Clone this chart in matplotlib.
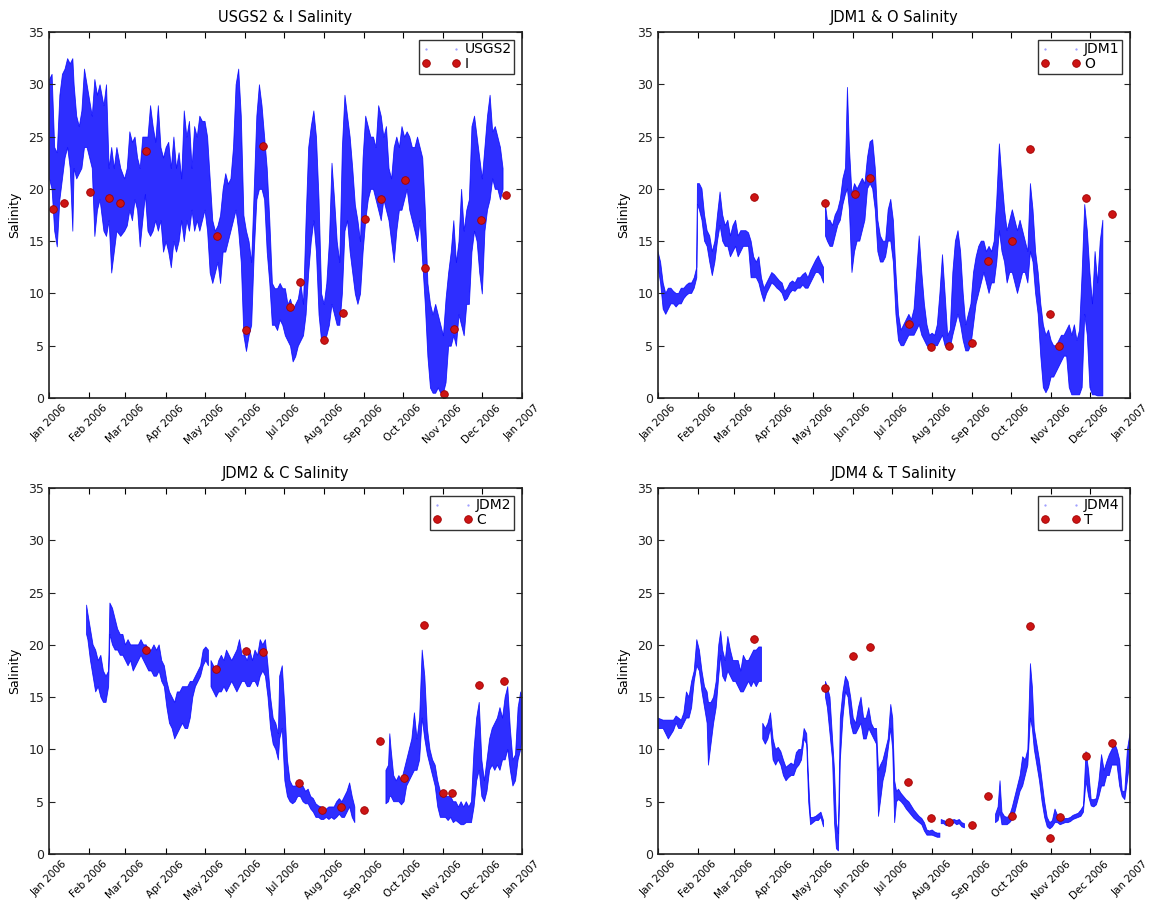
import numpy as np
import matplotlib
matplotlib.use("Agg")
import matplotlib.pyplot as plt
import matplotlib.dates as mdates
from matplotlib.lines import Line2D

nan = np.nan

# ---------------- USGS2 (day-of-year, low / high envelope of the dense record)
usgs2_day = [0, 2, 4, 6, 8, 10, 12, 14, 16, 18, 19, 21, 23, 25, 27, 29, 31, 33, 35, 37, 39, 42, 44, 46, 48, 50,
             52, 55, 58, 60, 62, 64, 66, 68, 70, 72, 74, 76, 78, 80, 82, 84, 86, 88, 90, 92, 94, 96, 98, 100,
             102, 104, 106, 108, 110, 112, 114, 116, 118, 120, 122, 124, 126, 128, 130, 132, 134, 136, 138, 140,
             142, 144, 146, 148, 150, 152, 154, 156, 158, 160, 162, 164, 166, 168, 170, 172, 174, 176, 178, 180,
             182, 184, 186, 188, 190, 192, 194, 196, 198, 200, 202, 204, 206, 208, 210, 212, 214, 216, 218, 220,
             222, 224, 226, 228, 230, 232, 234, 236, 238, 240, 242, 244, 246, 248, 250, 252, 254, 256, 258, 260,
             262, 264, 266, 268, 270, 272, 274, 276, 278, 280, 282, 284, 286, 288, 290, 292, 294, 296, 298, 300,
             302, 304, 306, 308, 310, 312, 314, 316, 318, 320, 322, 324, 326, 328, 330, 332, 334, 336, 338, 340,
             342, 344, 346, 348, 350]
usgs2_lo = [21, 20, 16, 14.5, 19, 21, 23, 24, 22, 16, 22, 21, 21.5, 22, 24, 24, 23, 22, 15.5, 18, 19, 16, 15.5, 17, 12, 14,
            16, 15.5, 16, 16.5, 18, 17, 19, 18, 14.5, 17, 19.5, 16, 15.5, 16, 17, 16, 17, 14, 15, 14, 12.5, 15, 14, 15,
            17, 15, 17, 16, 18, 16, 17, 16, 17, 18, 16, 12, 11, 12, 13, 11, 14, 14, 15, 16,
            17, 18, 16, 13, 6, 4.5, 6, 7, 14, 19, 20, 20, 19, 14, 11, 7, 7, 6.5, 7.5, 7,
            6, 5.5, 5, 3.5, 4, 5, 5.5, 6, 8, 12, 15, 17, 14, 8, 5.5, 5.5, 6, 7, 9, 8,
            7, 7, 10, 16, 17, 14, 12, 10, 9, 10, 14, 17, 19, 20, 20, 19, 18, 17, 19, 18,
            17, 15, 13, 16, 18, 18, 19, 20, 18, 17, 16, 15, 17, 13, 9, 4, 1, 0.5, 0.5, 1,
            0.5, 0.5, 1.5, 5, 5, 6, 5, 8, 7, 6, 9, 9, 14, 16, 15, 12, 10, 16, 18, 19,
            21, 20, 20, 19, 20]
usgs2_hi = [30.5, 31, 24, 23.5, 29, 31, 31.5, 32.5, 32, 32.5, 30, 27, 26, 27.5, 31.5, 30, 28.5, 27, 30.5, 29, 30, 28, 30, 22, 24, 22,
            24, 22, 21, 22, 25.5, 24.5, 25, 23, 22, 25, 25, 25, 28, 26, 24.5, 28, 24, 23, 24, 24.5, 22, 25, 22, 23.5,
            21, 27.5, 25, 26.5, 22, 26, 25, 27, 26.5, 26.5, 25, 21, 17, 16, 16.5, 17.5, 20, 21.5, 20.5, 21,
            24, 30, 31.5, 27, 17.5, 16, 15, 13, 20, 27, 30, 28, 25, 22, 17, 11, 10.5, 10.5, 11, 10.5,
            10.5, 9, 9.5, 8.5, 9, 9.5, 11, 9, 17, 24, 26, 27.5, 25, 19, 10, 9, 11, 15, 22.5, 19,
            15, 13, 24, 29, 27, 25, 22, 18.5, 17, 15, 23, 27, 26, 25, 25, 24, 28, 27, 25, 26,
            22, 21, 24, 25, 24, 26, 25, 25.5, 25, 24, 24, 25, 24, 23, 18, 11, 9, 8, 9, 8,
            7, 6, 9.5, 12, 14, 17, 13, 15, 20, 16, 18, 19, 26, 27, 25, 23, 21, 24, 27, 29,
            25.5, 26, 25, 24, 22]
i_day = [3, 11.6, 31.5, 46.5, 54.8, 74.7, 129.7, 152, 165, 186, 194, 212, 227, 244, 256, 275, 290, 304.6, 312.5, 333, 353]
i_val = [18.1, 18.6, 19.7, 19.1, 18.6, 23.6, 15.5, 6.5, 24.1, 8.7, 11.1, 5.5, 8.1, 17.1, 19.0, 20.8, 12.4, 0.4, 6.6, 17.0, 19.4]

# ---------------- JDM1
jdm1_day = [0, 2, 4, 6, 8, 10, 12, 14, 16, 18, 20, 22, 24, 26, 28, 30, 30.5, 32, 34, 36, 38, 40, 42, 44, 46, 48, 50, 52,
            54, 56, 58, 60, 62, 64, 66, 68, 70, 72, 74, 76, 78, 80, 82, 84, 86, 88, 90, 92, 94, 96, 98, 100, 102, 104,
            106, 108, 110, 112, 114, 116, 118, 120, 122, 124, 126, 128, 129, 129.5, 131, 133, 135, 137, 139, 141, 143,
            145, 146.5, 148, 150, 152, 154, 156, 158, 160, 162, 164, 166, 168, 170, 172, 174, 176, 178, 180, 182, 184,
            186, 188, 190, 192, 194, 196, 198, 200, 202, 204, 206, 208, 210, 212, 214, 216, 218, 220, 222, 224, 226,
            228, 230, 232, 234, 236, 238, 240, 242, 244, 246, 248, 250, 252, 254, 256, 258, 260, 262, 264, 266, 268,
            270, 272, 274, 276, 278, 280, 282, 284, 286, 288, 290, 292, 294, 296, 298, 300, 302, 304, 306, 308, 310,
            312, 314, 316, 318, 320, 322, 324, 326, 328, 330, 332, 334, 336, 338, 340, 342, 344]
jdm1_lo = [12.5, 11, 8.5, 8, 8.5, 9, 9, 8.7, 9, 9, 9.5, 9.8, 10, 10, 10.5, 11.5, 18.5, 18, 17, 15, 14.5, 13, 11.7, 13, 15, 16.5, 15, 14.5,
           14.5, 13.5, 14, 14.5, 13.5, 14, 14.5, 14.5, 14.5, 11.5, 11.5, 11.5, 11, 10, 9.2, 10, 10.5, 11, 10.8, 10.5, 10.3, 10, 9.3, 9.5, 10, 10.3,
           10.2, 10.5, 10.5, 10.8, 10.5, 10.5, 11, 11.5, 12, 12, 11.7, 11, nan, 15.5, 15, 14.5, 14.5, 15.5, 16.5, 17, 18.5,
           19.5, 20, 18, 12, 14, 15, 15, 16, 17, 20, 20.5, 20, 18, 14, 13, 13, 13.5, 15, 15, 13, 8,
           5.5, 5, 5, 5.5, 6, 6, 6, 6.5, 7, 6, 5.5, 5, 4.8, 4.8, 5, 5, 5.5, 6, 5, 4.8, 4.8,
           6, 7, 8, 7, 5.5, 4.5, 4.5, 5, 7, 9, 10, 11, 12, 11, 10, 11, 11, 13, 16, 14, 13,
           11, 12, 12, 11, 10, 11, 12, 12, 11, 14, 13, 10, 8, 4, 1, 0.5, 1, 2, 2, 2.5, 3,
           3.5, 4, 4, 1, 0.3, 0.3, 0.3, 0.3, 1, 8, 6, 1, 0.3, 0.3, 0.2, 0.2, 0.2]
jdm1_hi = [14, 13, 11, 10, 10.5, 10.5, 10.2, 10, 10, 10.5, 10.5, 10.8, 11, 11, 11.5, 12.5, 20.5, 20.5, 20, 17.5, 16, 15.5, 14, 15, 17.5, 19.7, 17.5, 16.5,
           17, 15.5, 16.5, 17, 15.5, 16, 16, 16, 15.8, 15, 13.5, 13, 13.5, 11.5, 10.5, 11, 11.5, 12, 11.8, 11.5, 11.2, 11, 10.2, 10.5, 11, 11.2,
           11, 11.5, 11.5, 11.8, 12, 11.5, 12.2, 12.7, 13.2, 13.6, 13, 12.5, nan, 18.5, 17, 17, 16.5, 17.5, 18, 19, 21,
           22, 29.7, 24, 19.5, 20.5, 20, 20.5, 21, 20.5, 23, 24.5, 24.7, 22, 17, 15.5, 15, 15, 18, 19, 17, 12,
           8, 6.5, 7, 7.5, 8, 7.5, 8.5, 12, 15.5, 12, 9, 7, 6, 6.2, 6, 7, 10, 13.7, 10, 6, 6.5,
           12, 15, 16, 14, 10, 7, 8, 9, 12, 13.5, 14.5, 15, 15, 14, 14.5, 14, 15, 19, 24.3, 21, 18,
           16, 17, 18, 17, 16, 17, 16, 15, 14, 20.5, 18, 14, 12, 9, 7, 6, 6.5, 5.5, 5, 5, 5.5,
           6, 6, 6.5, 7, 6, 7, 5.5, 6.5, 12, 18.5, 16, 12, 9, 14, 11, 15, 17]
o_day = [73.9, 129, 152, 164, 194, 211, 225, 243, 255, 274, 288, 303, 310, 331, 351]
o_val = [19.2, 18.6, 19.5, 21.0, 7.1, 4.9, 5.0, 5.3, 13.1, 15.0, 23.8, 8.0, 5.0, 19.1, 17.6]

# ---------------- JDM2
jdm2_day = [29, 30, 32, 34, 36, 38, 40, 42, 44, 46, 47, 49, 51, 53, 55, 57, 59, 61, 63, 65, 67, 69, 71, 73, 75, 77, 79,
            81, 83, 85, 87, 89, 91, 93, 95, 97, 99, 101, 103, 105, 107, 109, 111, 113, 115, 117, 119, 121, 123, 124,
            125, 127, 129, 131, 133, 135, 137, 139, 141, 143, 145, 147, 149, 151, 153, 155, 157, 159, 161, 163, 165,
            167, 169, 171, 173, 175, 177, 178, 180, 182, 184, 186, 188, 190, 192, 194, 196, 198, 200, 202, 204, 206,
            208, 210, 212, 214, 216, 218, 220, 222, 224, 226, 228, 230, 232, 234, 236, 237, 260, 262, 263, 264, 266,
            268, 270, 272, 274, 276, 278, 280, 282, 284, 286, 288, 290, 292, 294, 296, 298, 300, 302, 304, 306, 308,
            310, 312, 314, 316, 318, 320, 322, 324, 326, 328, 330, 332, 334, 336, 338, 340, 342, 344, 346, 348, 350,
            352, 354, 356, 358, 360, 362, 364, 365]
jdm2_lo = [21, 20.5, 18.5, 17, 15.5, 16, 15, 14.5, 14.5, 16, 21, 20, 19.5, 19.5, 19, 19, 18.5, 18, 18.5, 17.5, 18, 18.5, 19, 18.5, 18, 17.5, 17.5,
           17, 17, 17.5, 16.5, 16, 14, 12.5, 12, 11, 11.5, 12, 12.5, 12, 12, 13, 15, 16, 16.5, 17, 18, 18.5, 18, nan,
           16, 15.5, 15, 15.5, 15.5, 16, 15.5, 16, 16.5, 16, 15.5, 16, 16.5, 16.5, 16, 16, 16.5, 16.5, 16, 17, 17.5,
           17, 15, 12, 10.5, 10, 9, 11, 12, 7, 5.5, 5, 4.8, 5, 5.5, 5.5, 5, 4.8, 4.8, 4.3, 4, 3.5,
           3.5, 3.3, 3.3, 3.5, 3.3, 3.5, 3.3, 3.5, 3.8, 3.5, 3.5, 4, 4.5, 3.5, 3, nan, 4.8, 5, 5.5, 5.5, 5,
           5, 5, 4.7, 5, 6.5, 7, 7.5, 8, 8, 9, 13, 11, 9.5, 8.5, 7.5, 6.5, 4.5, 3.5, 3.5, 3.5, 3.2,
           3.5, 3, 3.2, 3, 2.8, 2.8, 3, 3, 3, 4.5, 7, 8, 5.5, 5, 6, 8, 8.5, 8, 8.5, 8, 9,
           9, 10, 8, 6.5, 7, 9, 10, 11]
jdm2_hi = [23.8, 23, 21.5, 20, 19.5, 18.5, 19, 17.5, 17, 17.5, 24, 23.5, 22.5, 21.5, 21, 21, 20, 20.5, 20, 20, 20, 20, 20.5, 20, 20, 19.5, 19.5,
           20, 19.5, 20, 18.5, 18, 16.5, 15.5, 15, 14.5, 15.5, 15.5, 16, 16, 16, 16.5, 16.5, 17, 17.5, 18, 19.5, 19.8, 19.5, nan,
           18.5, 18, 17.5, 18.5, 19, 18.5, 19.5, 19, 18.5, 19, 19.5, 20.5, 19, 19, 18.5, 19.5, 18.5, 19.5, 19, 20.5, 20,
           20.5, 18, 15, 13, 12.5, 11.5, 17, 18, 14, 9, 7, 6.5, 6.5, 6.6, 6.5, 6.5, 6, 6.2, 5.5, 5.3, 4.8,
           4.6, 4.5, 4.3, 4.3, 4.5, 4.5, 4.5, 5, 5.3, 5, 5.5, 6, 6.8, 5.5, 4.5, nan, 8, 8.5, 11.5, 10, 7.5,
           7, 7.5, 7, 8, 9, 10, 11, 13.5, 11, 13, 19.5, 17, 12, 10, 9, 8.5, 7, 6, 5.5, 5.5, 5.5,
           5.5, 5, 5, 4.5, 5, 4.5, 5, 4.5, 5, 10, 13, 14.5, 9, 7, 9, 11, 12, 12.5, 13, 14, 13,
           15, 16, 12, 9, 9.5, 14, 15.5, 15]
c_day = [74.5, 129, 152, 165, 193, 211, 225, 243, 255.5, 274, 289, 304, 311, 331.5, 351]
c_val = [19.5, 17.7, 19.4, 19.3, 6.8, 4.2, 4.5, 4.2, 10.8, 7.3, 21.9, 5.8, 5.8, 16.2, 16.5]

# ---------------- JDM4
jdm4_day = [0, 4, 8, 12, 14, 16, 18, 20, 22, 24, 26, 28, 30, 32, 34, 36, 38, 39, 41, 43, 45, 47, 48.5, 50, 52, 54, 56,
            58, 60, 62, 64, 66, 68, 70, 72, 74, 76, 78, 80, 80.5, 81, 83, 85, 87, 89, 91, 93, 95, 97, 99, 101, 103,
            105, 107, 109, 111, 113, 115, 116.5, 118, 120, 122, 124, 126, 128, 129, 129.5, 131, 133, 135, 136.5, 138,
            139.5, 141, 143, 145, 147, 149, 151, 153, 155, 157, 159, 161, 163, 165, 167, 169, 170.5, 172, 174, 176,
            178, 180, 181.5, 183, 184.5, 186, 188, 190, 192, 194, 196, 198, 200, 202, 204, 206, 208, 210, 212, 214,
            216, 218, 218.5, 219, 221, 223, 225, 227, 229, 231, 233, 235, 237, 237.5, 261, 263, 264.5, 266, 268, 270,
            272, 274, 276, 278, 280, 282, 284, 286, 288, 289.5, 291, 293, 295, 297, 299, 301, 303, 305, 307, 309,
            311, 313, 315, 317, 319, 321, 323, 325, 327, 329, 331, 333, 335, 337, 339, 341, 343, 345, 347, 349, 351,
            353, 355, 357, 359, 361, 363, 365]
jdm4_lo = [12, 12, 11, 11.8, 12.5, 12, 12, 12.5, 13, 13, 14, 16.5, 18, 17.5, 15.5, 14, 12.5, 8.5, 10.5, 12.5, 14, 17, 19, 17, 16.5, 17.5, 17,
           16.5, 16.5, 16, 15.5, 15.5, 16, 16.5, 16, 16.5, 16, 16.5, 16.5, nan, 11, 10.5, 11, 12, 9, 8.5, 9, 8.5, 7.5, 7, 7.3, 7.5,
           7.5, 8.2, 8.5, 9, 11, 10.5, 5, 2.8, 3, 3.2, 3.2, 3.5, 2.6, nan, 15, 14, 11.5, 9, 3, 0.5,
           0.3, 9, 13, 15.5, 15, 12.5, 11.5, 11.5, 12, 12.5, 11, 11, 12, 11.5, 11, 10.5, 3.6, 5, 7, 8,
           10, 12, 10, 3, 5, 5.2, 5, 4.7, 4.3, 4, 3.7, 3.4, 3.2, 3, 2.8, 2.2, 1.8, 1.8, 1.8, 1.7,
           1.6, 1.6, nan, 2.9, 2.9, 2.7, 2.9, 2.8, 3, 2.8, 2.9, 2.6, 2.5, nan, 3, 3.2, 4, 2.8, 2.8, 2.8,
           3, 3.3, 4, 5, 6, 6.5, 7.5, 8.5, 13, 12, 10, 8.5, 7, 5, 3.5, 2.6, 2.4, 2.6, 3, 3,
           2.8, 2.9, 3, 3, 3.1, 3.3, 3.4, 3.5, 3.6, 4, 7, 5.5, 4.6, 4.5, 4.7, 5.5, 6.5, 6.5, 7.5, 7.5, 8.5,
           8.5, 8.5, 6.5, 5.5, 5.2, 7, 9]
jdm4_hi = [13, 12.8, 12.8, 12.8, 13.2, 13, 12.8, 13.5, 15.5, 15, 16.5, 17.5, 20.5, 19.5, 17.5, 16, 15.5, 14.5, 14.5, 15, 16.5, 20, 21.3, 19.5, 18.5, 20.8, 19.5,
           18.5, 18.5, 18.5, 17.5, 19, 18.5, 18.5, 19, 19.5, 19.5, 19.8, 19.8, nan, 12.5, 12, 12.5, 13.5, 11, 10, 10.2, 9.8, 9, 8.3, 8.5, 8.7,
           8.5, 9.7, 10, 10, 12, 11.5, 7, 3.5, 3.5, 3.6, 3.8, 4, 3.2, nan, 16.5, 16, 15, 11, 8, 3,
           2, 13, 15.5, 17, 16.5, 15, 13, 12.5, 14, 15, 13, 13, 14, 12.5, 12, 12, 8, 8.5, 9, 10,
           11, 14.3, 13, 7, 6, 6.2, 5.8, 5.5, 5.2, 5, 4.6, 4.2, 3.9, 3.6, 3.4, 3, 2.3, 2.2, 2.3, 2.1,
           2, 2, nan, 3.3, 3.2, 3.1, 3.3, 3.2, 3.3, 3.2, 3.3, 3, 2.9, nan, 3.8, 4.5, 7, 4, 3.6, 3.5,
           3.7, 4.5, 5.5, 6.5, 7.5, 9.3, 9, 10, 18.2, 16, 12, 10.5, 9, 7, 5, 3.5, 3, 3.2, 4.3, 3.7,
           3.3, 3.3, 3.4, 3.4, 3.5, 3.7, 3.8, 3.9, 4.2, 4.6, 9.8, 8, 5.2, 5.2, 5.3, 7, 9.5, 8, 8.8, 9.5, 10,
           10.6, 10, 9, 6, 6, 10, 11.5]
t_day = [74, 129, 151, 164, 193, 211, 225, 243, 255, 274, 288, 303, 311, 331, 351]
t_val = [20.6, 15.9, 18.9, 19.8, 6.9, 3.4, 3.1, 2.8, 5.5, 3.6, 21.8, 1.5, 3.5, 9.4, 10.6]

panels = [
    ("USGS2", "I", usgs2_day, usgs2_lo, usgs2_hi, i_day, i_val),
    ("JDM1", "O", jdm1_day, jdm1_lo, jdm1_hi, o_day, o_val),
    ("JDM2", "C", jdm2_day, jdm2_lo, jdm2_hi, c_day, c_val),
    ("JDM4", "T", jdm4_day, jdm4_lo, jdm4_hi, t_day, t_val),
]

plt.rcParams['font.family'] = ['DejaVu Sans']

fig = plt.figure(figsize=(11.5, 9), dpi=100, facecolor='white')
W, H = 1150.0, 900.0
rects = [
    (49, 32, 522, 398),
    (658, 32, 1130, 398),
    (49, 488, 522, 854),
    (658, 488, 1130, 854),
]
base = mdates.date2num(np.datetime64('2006-01-01'))
x0 = mdates.date2num(np.datetime64('2006-01-01'))
x1 = mdates.date2num(np.datetime64('2007-01-01'))

blue = '#0000ff'
red = '#cc1414'

for (name, sname, day, lo, hi, sday, sval), (l, t, r, b) in zip(panels, rects):
    ax = fig.add_axes([l / W, 1 - b / H, (r - l) / W, (b - t) / H])
    x = base + np.asarray(day, dtype=float)
    ax.fill_between(x, np.asarray(lo, dtype=float), np.asarray(hi, dtype=float),
                    facecolor=blue, edgecolor=blue, linewidth=0.6, alpha=0.82)
    ax.plot(base + np.asarray(sday, dtype=float), sval, linestyle='none', marker='o',
            markersize=5.5, markerfacecolor=red, markeredgecolor='#a00000', markeredgewidth=0.6)
    ax.set_xlim(x0, x1)
    ax.set_ylim(0, 35)
    ax.set_yticks(np.arange(0, 36, 5))
    ax.xaxis.set_major_locator(mdates.MonthLocator())
    ax.xaxis.set_major_formatter(mdates.DateFormatter('%b %Y'))
    for lab in ax.get_xticklabels():
        lab.set_rotation(45)
        lab.set_ha('center')
        lab.set_fontsize(7.5)
    ax.tick_params(axis='y', labelsize=9, colors='#222222')
    ax.tick_params(direction='in', top=True, right=True, length=4, width=0.8)
    for sp in ax.spines.values():
        sp.set_linewidth(1.2)
        sp.set_color('#222222')
    ax.set_ylabel('Salinity', fontsize=9, labelpad=5)
    ax.set_title(f'{name} & {sname} Salinity', fontsize=10.5, pad=7)
    h1 = Line2D([], [], linestyle='none', marker='.', markersize=1.2, color='#9999ff')
    h2 = Line2D([], [], linestyle='none', marker='o', markersize=5.5, markerfacecolor=red,
                markeredgecolor='#a00000', markeredgewidth=0.6)
    leg = ax.legend([h1, h2], [name, sname], loc='upper right', numpoints=2, fontsize=10,
                    fancybox=False, framealpha=1, edgecolor='#333333', borderaxespad=0.55,
                    handlelength=2.8, handletextpad=0.3, borderpad=0.2, labelspacing=0.05)
    leg.get_frame().set_linewidth(1.0)

fig.savefig('out.png', dpi=100, facecolor='white')
